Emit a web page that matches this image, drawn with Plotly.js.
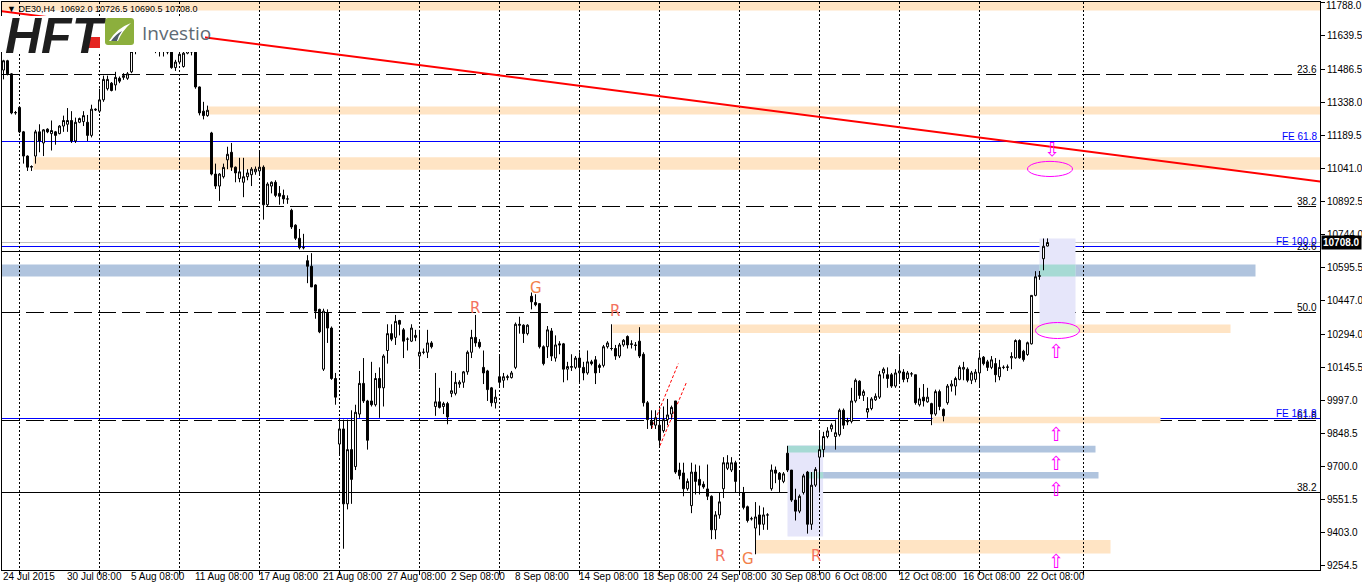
<!DOCTYPE html>
<html><head><meta charset="utf-8">
<script src="https://cdn.plot.ly/plotly-3.0.1.min.js"></script>
<style>html,body{margin:0;padding:0;background:#fff;overflow:hidden}#chart{width:1362px;height:586px}</style>
</head><body><div id="chart"></div>
<script>
// ---------------- DATA ----------------
const symbol = 'DE30,H4';
const opens = [11484,11526,11467,11291,11316,11206,11097,11047,11097,11206,
11156,11218,11198,11206,11198,11232,11240,11257,11165,11249,
11252,11249,11190,11308,11299,11350,11400,11425,11417,11447,
11451,11447,11476,11568,11600,11620,11610,11600,11585,11575,
11580,11570,11565,11495,11520,11500,11560,11575,11565,11408,
11299,11279,11201,11016,10962,11004,11080,11114,11047,10996,
10979,11004,11013,11026,11030,11047,10878,10962,10979,10929,
10920,10904,10853,10786,10727,10685,10626,10601,10517,10407,
10138,10390,10323,10096,9801,9869,9532,9776,9700,9936,
10074,9995,9995,9978,10096,10054,10222,10298,10281,10357,
10315,10273,10264,10281,10197,10214,10214,10256,9970,9991,
9970,9983,10029,10029,10071,10079,10126,10214,10281,10259,
10146,10130,10054,9987,10104,10088,10100,10100,10146,10340,
10336,10298,10466,10438,10433,10239,10239,10310,10188,10252,
10252,10138,10146,10146,10188,10146,10121,10171,10180,10155,
10155,10239,10231,10231,10197,10247,10285,10252,10247,10264,
10205,9987,9903,9886,9886,9861,9911,9936,9995,9684,
9671,9600,9524,9675,9642,9620,9599,9566,9415,9482,
9600,9692,9684,9717,9583,9583,9519,9465,9423,9482,
9440,9482,9600,9684,9670,9633,9760,9684,9549,9499,
9583,9675,9440,9616,9742,9776,9835,9869,9835,9843,
9953,9901,9903,9995,10084,10020,9945,9961,10000,10012,
10121,10113,10113,10062,10121,10125,10096,10117,10113,9978,
10012,9991,9983,9936,10037,9957,9987,10062,10062,10092,
10138,10138,10088,10092,10121,10192,10171,10146,10163,10104,
10146,10146,10189,10189,10267,10219,10204,10252,10470,10556,
10635,10692];
const highs = [11530,11530,11470,11300,11318,11210,11100,11055,11215,11240,
11218,11222,11257,11210,11236,11279,11313,11299,11270,11270,
11299,11282,11328,11312,11400,11459,11459,11430,11476,11455,
11470,11475,11590,11625,11640,11650,11640,11625,11610,11600,
11600,11590,11580,11530,11580,11590,11600,11600,11580,11410,
11341,11324,11206,11063,11020,11063,11139,11156,11050,11089,
11089,11038,11047,11050,11118,11055,10979,10983,10988,10962,
10946,10920,10860,10790,10769,10747,10651,10660,10520,10410,
10410,10407,10330,10121,9919,9911,9911,9953,9978,10130,
10188,10000,10171,10121,10146,10205,10340,10340,10382,10360,
10323,10281,10340,10315,10315,10231,10315,10264,10121,10054,
9991,9991,10130,10121,10088,10130,10222,10315,10382,10273,
10222,10135,10058,10046,10197,10121,10113,10130,10348,10374,
10340,10340,10483,10475,10433,10245,10332,10323,10290,10264,
10256,10171,10205,10197,10214,10171,10222,10180,10197,10163,
10247,10264,10340,10247,10256,10273,10290,10268,10260,10327,
10214,9995,9953,9953,9953,9970,10004,9974,9995,9717,
9717,9646,9717,9709,9704,9633,9709,9570,9499,9583,
9742,9751,9742,9726,9684,9608,9524,9474,9540,9524,
9516,9490,9709,9700,9675,9675,9793,9684,9600,9574,
9667,9680,9675,9697,9860,9856,9877,9894,9911,9961,
9961,9919,10054,10096,10088,10046,10012,10012,10029,10130,
10146,10146,10121,10138,10197,10138,10130,10125,10113,10054,
10071,10054,9987,10046,10046,9961,10071,10088,10104,10155,
10171,10146,10130,10138,10214,10197,10180,10197,10188,10180,
10155,10159,10214,10272,10272,10225,10262,10470,10579,10580,
10726,10726.5];
const lows = [11442,11460,11285,11283,11200,11063,11030,11030,11063,11114,
11097,11200,11122,11148,11195,11206,11206,11156,11156,11245,
11232,11165,11181,11300,11291,11341,11392,11388,11392,11425,
11440,11440,11470,11555,11590,11595,11585,11570,11560,11545,
11545,11555,11490,11480,11510,11495,11555,11550,11400,11280,
11262,11274,11010,10949,10895,10996,11038,11030,10979,10979,
10912,10988,10962,11013,11013,10811,10870,10929,10912,10878,
10882,10882,10769,10719,10677,10677,10525,10508,10365,10300,
10130,10256,10090,9978,9751,9330,9507,9532,9684,9919,
9986,9776,9970,9970,9919,9970,10163,10264,10247,10290,
10188,10222,10260,10264,10138,10205,10188,10231,9928,9961,
9936,9890,10012,10020,10054,10054,10113,10188,10239,10231,
10071,9995,9970,9961,10062,10054,10088,10096,10138,10298,
10256,10290,10407,10421,10231,10155,10188,10175,10172,10205,
10079,10088,10130,10138,10079,10088,10113,10155,10071,10121,
10146,10231,10222,10180,10188,10239,10231,10231,10222,10188,
9970,9869,9869,9869,9793,9852,9886,9911,9667,9642,
9566,9591,9490,9574,9574,9600,9549,9373,9373,9465,
9558,9684,9675,9583,9574,9507,9448,9457,9305,9390,
9415,9415,9591,9625,9583,9625,9675,9541,9457,9490,
9574,9398,9415,9608,9583,9742,9827,9856,9776,9835,
9869,9886,9894,9987,10004,9995,9919,9953,9995,10004,
10096,10054,10054,10054,10071,10079,10079,10104,9978,9970,
9970,9987,9886,9928,9953,9903,9978,10037,10020,10088,
10088,10079,10071,10079,10054,10155,10130,10138,10079,10088,
10138,10130,10138,10185,10185,10172,10198,10249,10466,10540,
10583,10690.5];
const closes = [11526,11467,11291,11293,11206,11097,11047,11050,11206,11165,
11215,11206,11212,11190,11232,11257,11257,11165,11249,11266,
11279,11190,11308,11305,11350,11442,11442,11392,11451,11434,
11459,11467,11568,11600,11620,11610,11600,11585,11575,11580,
11570,11565,11495,11520,11555,11560,11575,11565,11408,11291,
11279,11303,11016,10962,11016,11046,11105,11047,11021,11026,
11004,11021,11038,11038,11047,10878,10971,10979,10920,10916,
10904,10904,10778,10727,10685,10685,10601,10508,10399,10306,
10399,10323,10096,10012,9869,9532,9776,9642,9944,10074,
9995,9818,9978,10096,10054,10197,10298,10273,10353,10340,
10264,10273,10323,10290,10214,10214,10256,10239,9991,9966,
9983,9923,10041,10079,10079,10126,10214,10281,10256,10239,
10121,10046,9987,10012,10079,10104,10104,10121,10340,10336,
10298,10336,10441,10428,10239,10163,10315,10197,10247,10247,
10138,10150,10150,10188,10146,10121,10171,10163,10121,10146,
10239,10256,10231,10197,10247,10268,10247,10250,10245,10197,
9987,9911,9886,9919,9818,9911,9932,9966,9675,9659,
9600,9633,9675,9633,9616,9608,9566,9415,9482,9541,
9717,9717,9717,9633,9583,9516,9457,9465,9473,9440,
9482,9482,9684,9670,9642,9667,9684,9549,9499,9566,
9658,9440,9616,9687,9776,9835,9860,9886,9852,9953,
9886,9903,9995,10088,10020,10037,9961,10004,10016,10113,
10138,10096,10062,10121,10130,10092,10121,10117,9987,10004,
9995,10012,9936,10037,9970,9928,10062,10071,10096,10146,
10146,10088,10121,10125,10188,10163,10146,10180,10113,10146,
10146,10148,10195,10267,10189,10181,10257,10470,10554,10558,
10691,10708];

// time axis (bar index of each label / weekly grid)
const dateIdx  = [0,16,32,48,64,80,96,112,128,144,160,176,192,208,224,240,256];
const dateText = ['24 Jul 2015','30 Jul 08:00','5 Aug 08:00','11 Aug 08:00','17 Aug 08:00','21 Aug 08:00','27 Aug 08:00','2 Sep 08:00','8 Sep 08:00','14 Sep 08:00','18 Sep 08:00','24 Sep 08:00','30 Sep 08:00','6 Oct 08:00','12 Oct 08:00','16 Oct 08:00','22 Oct 08:00'];
const gridIdx  = [4,24,44,64,84,104,124,144,164,184,204,224,244,270];
// price axis labels
const priceTicks = [11788.0,11639.5,11486.5,11338.0,11189.5,11041.0,10892.5,10744.0,10595.5,10447.0,10294.0,10145.5,9997.0,9848.5,9700.0,9551.5,9403.0,9254.5];

// zones (bar index from/to, price low/high)
const peachFrom = [-5, 51.25, 7.5, 152.25, 232.25, 188];
const peachTo   = [335, 335, 335, 306.75, 289.25, 276.75];
const peachLow  = [11752, 11284, 11035, 10301, 9895, 9308];
const peachHigh = [11800, 11320, 11092, 10339, 9924, 9369];
const steelFrom = [-5, 196, 201];
const steelTo   = [313, 273, 273.75];
const steelLow  = [10555, 9763, 9646];
const steelHigh = [10609, 9793, 9675];
const lavFrom = [196, 259];
const lavTo   = [204.9, 268];
const lavLow  = [9385, 10339];
const lavHigh = [9794, 10726];

// fibonacci / expansion levels
const fibDashPrice = [11464, 10870, 10393, 9907];
const fibDashText  = ['23.6','38.2','50.0','61.8'];
const fibSolidPrice = [10667.5, 9583];
const fibSolidText  = ['23.6','38.2'];
const fePrice = [11162.5, 10690, 9916];
const feText  = ['FE 61.8','FE 100.0','FE 161.8'];

// trend line & small dashed channel lines
const trendIdx = [-0.75, 329.25];
const trendPrice = [11750, 10982];
const chanFromIdx = [162, 164.1];
const chanToIdx   = [168.7, 170.75];
const chanFromPrice = [9869, 9793];
const chanToPrice   = [10163, 10079];

// ellipses (bounding boxes)
const ellFrom = [256, 258];
const ellTo   = [267.25, 269];
const ellLow  = [11005, 10276];
const ellHigh = [11073, 10348];

// arrows
const upArrowIdx = [263, 263, 263, 263, 263];
const upArrowPrice = [10222, 9848, 9718, 9601, 9274];
const downArrowIdx = [262];
const downArrowPrice = [11128];

// R / G letters
const letterText  = ['R','G','R','R','G','R'];
const letterIdx   = [117.75, 133, 152.75, 179, 186, 203];
const letterPrice = [10415, 10505, 10402, 9297, 9286, 9297];

// ---------------- LAYOUT ----------------
const W = 1362, H = 586, L = 2, R = 42, T = 2, B = 16;
const PW = W - L - R, PH = H - T - B;
const px = x => (x - L) / PW;
const py = y => (H - B - y) / PH;
const FONT = 'Liberation Sans, Arial, sans-serif';
const ellGreen = [false, true];

const bars = opens.map((_, k) => k);
const traces = [{
  type: 'candlestick', x: bars, open: opens, high: highs, low: lows, close: closes,
  increasing: {line: {color: '#000', width: 1}, fillcolor: '#fff'},
  decreasing: {line: {color: '#000', width: 1}, fillcolor: '#000'},
  whiskerwidth: 0, hoverinfo: 'skip', showlegend: false
}];

const shapes = [];
function zone(x0, x1, y0, y1, color) {
  shapes.push({type: 'rect', xref: 'x', yref: 'y', x0, x1, y0, y1, fillcolor: color, line: {width: 0}, layer: 'below'});
}
peachFrom.forEach((_, k) => zone(peachFrom[k], peachTo[k], peachLow[k], peachHigh[k], '#FFE4C4'));
steelFrom.forEach((_, k) => zone(steelFrom[k], steelTo[k], steelLow[k], steelHigh[k], '#B0C4DE'));
lavFrom.forEach((_, k) => zone(lavFrom[k], lavTo[k], lavLow[k], lavHigh[k], '#E6E6FA'));
function overlap(f, t, lo, hi, color) {
  lavFrom.forEach((_, j) => {
    f.forEach((_, k) => {
      const x0 = Math.max(f[k], lavFrom[j]), x1 = Math.min(t[k], lavTo[j]);
      const y0 = Math.max(lo[k], lavLow[j]), y1 = Math.min(hi[k], lavHigh[j]);
      if (x1 > x0 && y1 > y0) zone(x0, x1, y0, y1, color);
    });
  });
}
overlap(steelFrom, steelTo, steelLow, steelHigh, '#A6DAD4');

// ellipse interior inside a peach zone shows tinted (MT4 blend)
function ellipseBandPath(cx, cy, rx, ry, lo, hi) {
  let pts = [];
  for (let a = 0; a < 90; a++) { const t = a / 90 * 2 * Math.PI; pts.push([cx + rx * Math.cos(t), cy + ry * Math.sin(t)]); }
  const clip = (ps, keep, yb) => {
    const out = [];
    for (let k = 0; k < ps.length; k++) {
      const p = ps[k], q = ps[(k + 1) % ps.length], pin = keep(p[1]), qin = keep(q[1]);
      if (pin) out.push(p);
      if (pin !== qin) { const f = (yb - p[1]) / (q[1] - p[1]); out.push([p[0] + f * (q[0] - p[0]), yb]); }
    }
    return out;
  };
  pts = clip(pts, y => y >= lo, lo);
  pts = clip(pts, y => y <= hi, hi);
  if (pts.length < 3) return null;
  return 'M ' + pts.map(p => p[0].toFixed(3) + ',' + p[1].toFixed(2)).join(' L ') + ' Z';
}
ellFrom.forEach((_, k) => {
  if (!ellGreen[k]) return;
  const cx = (ellFrom[k] + ellTo[k]) / 2, cy = (ellLow[k] + ellHigh[k]) / 2;
  const rx = (ellTo[k] - ellFrom[k]) / 2, ry = (ellHigh[k] - ellLow[k]) / 2;
  peachFrom.forEach((_, j) => {
    const path = ellipseBandPath(cx, cy, rx, ry, peachLow[j], peachHigh[j]);
    if (path) shapes.push({type: 'path', xref: 'x', yref: 'y', path, fillcolor: '#E6F6CF', line: {width: 0}, layer: 'below'});
  });
});

function hline(y, color, dash) {
  shapes.push({type: 'line', xref: 'paper', x0: 0, x1: 1, yref: 'y', y0: y, y1: y, line: {color, width: 1, dash}, layer: 'between'});
}
const lastClose = closes[closes.length - 1];
hline(lastClose, '#C0C0C0', 'solid');
fibDashPrice.forEach(p => hline(p, '#000', '18px,6px'));
fibSolidPrice.forEach(p => hline(p, '#000', 'solid'));
fePrice.forEach(p => hline(p, '#0000FF', 'solid'));

shapes.push({type: 'line', xref: 'x', yref: 'y', x0: trendIdx[0], x1: trendIdx[1], y0: trendPrice[0], y1: trendPrice[1], line: {color: '#FF0000', width: 2}, layer: 'between'});
chanFromIdx.forEach((_, k) => shapes.push({type: 'line', xref: 'x', yref: 'y', x0: chanFromIdx[k], x1: chanToIdx[k], y0: chanFromPrice[k], y1: chanToPrice[k], line: {color: '#FF0000', width: 1, dash: '3px,2px'}, layer: 'between'}));
ellFrom.forEach((_, k) => shapes.push({type: 'circle', xref: 'x', yref: 'y', x0: ellFrom[k], x1: ellTo[k], y0: ellLow[k], y1: ellHigh[k], line: {color: '#FF00FF', width: 1}, layer: 'above'}));

// logo block (covers chart under it)
shapes.push({type: 'rect', xref: 'paper', yref: 'paper', x0: px(-1), x1: px(205), y0: py(52), y1: py(16), fillcolor: '#fff', line: {width: 0}, layer: 'above'});
shapes.push({type: 'rect', xref: 'paper', yref: 'paper', x0: px(88), x1: px(100), y0: py(48), y1: py(37), fillcolor: '#E52521', line: {width: 0}, layer: 'above'});
shapes.push({type: 'path', xref: 'paper', yref: 'paper', layer: 'above', fillcolor: '#8CAF3D', line: {width: 0},
  path: `M ${px(108)} ${py(18)} L ${px(131)} ${py(18)} Q ${px(134)} ${py(18)} ${px(134)} ${py(21)} L ${px(134)} ${py(42)} Q ${px(134)} ${py(45)} ${px(131)} ${py(45)} L ${px(108)} ${py(45)} Q ${px(105)} ${py(45)} ${px(105)} ${py(42)} L ${px(105)} ${py(21)} Q ${px(105)} ${py(18)} ${px(108)} ${py(18)} Z`});
shapes.push({type: 'path', xref: 'paper', yref: 'paper', layer: 'above', fillcolor: '#ffffff', line: {width: 0},
  path: `M ${px(109)} ${py(41)} Q ${px(117)} ${py(28)} ${px(131)} ${py(23)} Q ${px(122)} ${py(31)} ${px(118)} ${py(41)} Z`});
shapes.push({type: 'path', xref: 'paper', yref: 'paper', layer: 'above', fillcolor: '#4E5D69', line: {width: 0},
  path: `M ${px(111)} ${py(41)} Q ${px(116)} ${py(34)} ${px(122)} ${py(31)} Q ${px(118)} ${py(36)} ${px(117)} ${py(41)} Z`});

const ann = [];
dateIdx.forEach((d, k) => ann.push({x: d, xref: 'x', y: 0, yref: 'paper', yanchor: 'top', xanchor: 'left', xshift: -3, yshift: 1,
  text: dateText[k], showarrow: false, font: {family: FONT, size: 10, color: '#000'}}));
function levelLabel(p, t, color) {
  ann.push({x: 1, xref: 'paper', y: p, yref: 'y', xanchor: 'right', yanchor: 'bottom', xshift: -1, yshift: -2,
    text: t, showarrow: false, font: {family: FONT, size: 10, color}});
}
fibDashPrice.forEach((p, k) => levelLabel(p, fibDashText[k], '#000'));
fibSolidPrice.forEach((p, k) => levelLabel(p, fibSolidText[k], '#000'));
fePrice.forEach((p, k) => levelLabel(p, feText[k], '#0000FF'));
upArrowIdx.forEach((x, k) => ann.push({x, y: upArrowPrice[k], xref: 'x', yref: 'y', text: '⇧', showarrow: false,
  font: {family: 'DejaVu Sans', size: 19, color: '#FF00FF'}}));
downArrowIdx.forEach((x, k) => ann.push({x, y: downArrowPrice[k], xref: 'x', yref: 'y', text: '⇩', showarrow: false,
  font: {family: 'DejaVu Sans', size: 19, color: '#FF00FF'}}));
letterText.forEach((t, k) => ann.push({x: letterIdx[k], y: letterPrice[k], xref: 'x', yref: 'y', text: t, showarrow: false,
  font: {family: 'DejaVu Sans', size: 15, color: t === 'G' ? '#F2804A' : '#F3725E'}}));
// top price label kept inside the page
ann.push({x: 1, xref: 'paper', y: priceTicks[0], yref: 'y', xanchor: 'left', yanchor: 'middle', xshift: 4, yshift: -3,
  text: priceTicks[0].toFixed(1), showarrow: false, font: {family: FONT, size: 10, color: '#000'}});
ann.push({x: 1, xref: 'paper', y: lastClose, yref: 'y', xanchor: 'left', xshift: 1, text: '<b>' + lastClose.toFixed(1) + '</b>',
  showarrow: false, bgcolor: '#000', borderpad: 1, font: {family: FONT, size: 10, color: '#fff'}});
const n = opens.length - 1;
ann.push({x: px(5), xref: 'paper', y: py(9), yref: 'paper', xanchor: 'left', yanchor: 'middle', showarrow: false,
  text: '▼ ' + symbol + '\u00A0\u00A0' + [opens[n], highs[n], lows[n], closes[n]].map(v => v.toFixed(1)).join('\u00A0'),
  font: {family: FONT, size: 9, color: '#000'}});
ann.push({x: px(3), xref: 'paper', y: py(36), yref: 'paper', xanchor: 'left', yanchor: 'middle', showarrow: false,
  text: '<b><i>HFT</i></b>', font: {family: FONT, size: 50, color: '#1E1E1E'}});
ann.push({x: px(140), xref: 'paper', y: py(33), yref: 'paper', xanchor: 'left', yanchor: 'middle', showarrow: false,
  text: 'Investio', font: {family: 'Open Sans', size: 19, color: '#5E6A74'}});

const layout = {
  width: W, height: H, margin: {l: L, r: R, t: T, b: B}, paper_bgcolor: '#fff', plot_bgcolor: '#fff',
  showlegend: false, dragmode: false, hovermode: false,
  xaxis: {range: [-0.375, 329.125], tickmode: 'array', tickvals: gridIdx, showticklabels: false, ticks: 'outside', ticklen: 4,
    tickcolor: '#000', showgrid: true, gridcolor: '#000', griddash: '2px,2px', gridwidth: 1, showline: true, mirror: true,
    linecolor: '#000', linewidth: 1, zeroline: false, rangeslider: {visible: false}, fixedrange: true},
  yaxis: {range: [9234.25, 11790.25], side: 'right', tickmode: 'array', tickvals: priceTicks,
    ticktext: priceTicks.map((v, k) => k === 0 ? '' : v.toFixed(1)),
    ticks: 'outside', ticklen: 4, tickcolor: '#000', showgrid: false, showline: true, mirror: true, linecolor: '#000', linewidth: 1,
    zeroline: false, tickfont: {family: FONT, size: 10, color: '#000'}, fixedrange: true},
  shapes, annotations: ann
};
Plotly.newPlot('chart', traces, layout, {displayModeBar: false, staticPlot: true});
</script></body></html>
